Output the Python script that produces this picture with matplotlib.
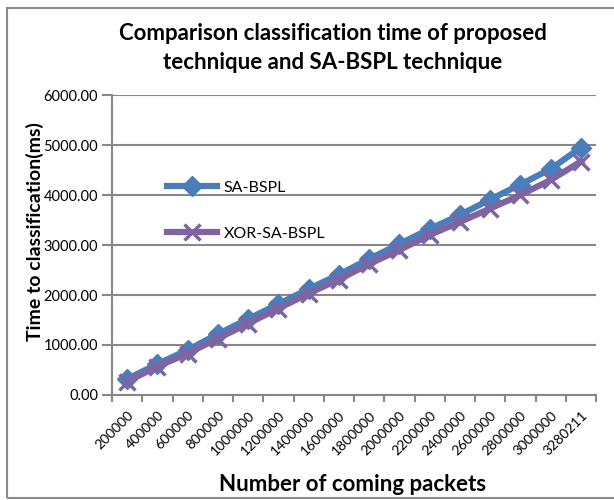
import numpy as np
import matplotlib.pyplot as plt
from matplotlib.patches import Rectangle

# data
packets = ['200000', '400000', '600000', '800000', '1000000', '1200000',
           '1400000', '1600000', '1800000', '2000000', '2200000', '2400000',
           '2600000', '2800000', '3000000', '3280211']
sa_bspl = [320, 620, 900, 1220, 1520, 1820, 2120, 2410, 2720, 3020,
           3320, 3600, 3910, 4210, 4520, 4950]
xor_sa_bspl = [270, 570, 830, 1130, 1430, 1730, 2030, 2310, 2620, 2900,
               3200, 3460, 3730, 4000, 4300, 4670]
yticks = [0, 1000, 2000, 3000, 4000, 5000, 6000]

plt.rcParams['font.family'] = ['Lato', 'DejaVu Sans']

fig = plt.figure(figsize=(6.14, 5.00), dpi=100)
ax = fig.add_axes([112 / 614, 1 - 395 / 500, 484 / 614, 300 / 500])

# outer chart frame
fig.patches.append(Rectangle((7 / 614, 2 / 500), 1.2, 490 / 500, transform=fig.transFigure,
                             fill=False, edgecolor='#8c8c8c', linewidth=1.5))

x = np.arange(len(packets))
ax.plot(x, sa_bspl, color='#4a7ebb', linewidth=4.5, marker='D', markersize=10,
        label='SA-BSPL', zorder=3)
ax.plot(x, xor_sa_bspl, color='#8064a2', linewidth=4.5, marker='x', markersize=11,
        markeredgewidth=2.5, label='XOR-SA-BSPL', zorder=4)

ax.set_xlim(-0.5, len(packets) - 0.5)
ax.set_ylim(0, 6000)
ax.set_yticks(yticks)
ax.set_yticklabels([f'{v:.2f}' for v in yticks], fontsize=10.5)
ax.yaxis.grid(True, color='#878787', linewidth=1.5)
ax.set_axisbelow(True)

ax.set_xticks(x)
ax.set_xticklabels(packets, rotation=45, ha='right', va='top', fontsize=10,
                   rotation_mode='anchor')
ax.set_xticks(np.arange(-0.5, len(packets)), minor=True)
ax.tick_params(axis='x', which='major', length=0, pad=10)
ax.tick_params(axis='x', which='minor', length=5, color='#878787', width=1.5)
ax.tick_params(axis='y', length=7, color='#878787', width=1.5, pad=3)

for s in ['top', 'right']:
    ax.spines[s].set_visible(False)
for s in ['left', 'bottom']:
    ax.spines[s].set_color('#878787')
    ax.spines[s].set_linewidth(1.5)

ax.set_xlabel('Number of coming packets', fontsize=16, fontweight='bold')
ax.xaxis.set_label_coords((353 - 112) / 484, (395 - 474) / 300)
ax.set_ylabel('Time to classification(ms)', fontsize=14, fontweight='bold')
ax.yaxis.set_label_coords((44 - 112) / 484, (395 - 232) / 300)
fig.text(333 / 614, 1 - 48 / 500, 'Comparison classification time of proposed\ntechnique and SA-BSPL technique',
         ha='center', va='center', fontsize=16, fontweight='bold', linespacing=1.45)

ax.legend(loc='upper left', bbox_to_anchor=(0.084, 0.763), frameon=False, fontsize=11.5,
          handlelength=3.1, labelspacing=2.0, handletextpad=0.45)

fig.savefig('out.png', dpi=100)
